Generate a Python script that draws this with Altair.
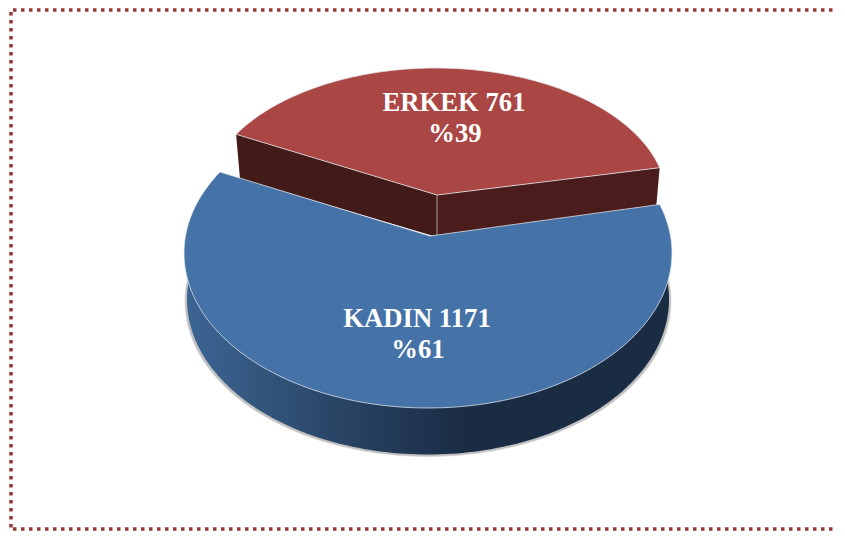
import math
import altair as alt

# ---- chart values ----
categories = ["ERKEK", "KADIN"]
counts = [761, 1171]
percents = ["%39", "%61"]

# ---- layout of the tilted pie (page pixels; the page has an 8px margin) ----
W, H = 829, 523
OFF = 8
TOTAL = sum(counts)
# each slice: ellipse (cx, cy, rx, ry), apex, start angle, perspective stretch of the sweep
RED = dict(c=(436, 201, 231, 133), apex=(437, 195), start=14.5, k=0.955)
BLUE = dict(c=(428, 253, 244, 155), apex=(430, 236), start=148.5, k=1.053)
DEPTH_C = (428, 299.5, 241, 155)
TEXT_POS = {"ERKEK": ((454, 111), (455, 142)), "KADIN": ((417, 327), (418, 358))}


def pt(c, deg):
    r = math.radians(deg)
    return (c[0] + c[2] * math.cos(r), c[1] - c[3] * math.sin(r))


def arc(c, a0, a1, n=160):
    return [pt(c, a0 + (a1 - a0) * i / n) for i in range(n + 1)]


def feat(points, closed=True):
    coords = [[x - OFF, y - OFF] for x, y in points]
    if closed:
        coords.append(coords[0])
        geom = {"type": "Polygon", "coordinates": [coords]}
    else:
        geom = {"type": "LineString", "coordinates": coords}
    return {"type": "Feature", "properties": {}, "geometry": geom}


def shape(points, closed=True, **mark):
    return alt.Chart(alt.Data(values=[feat(points, closed)])).mark_geoshape(**mark)


def sweep(slice_, value):
    return slice_["start"], slice_["start"] + 360 * value / TOTAL * slice_["k"]


r0, r1 = sweep(RED, counts[0])
b0, b1 = sweep(BLUE, counts[1])
red_arc = arc(RED["c"], r0, r1)
blue_arc = arc(BLUE["c"], b0, b1)
red_apex, blue_apex = RED["apex"], BLUE["apex"]

# walls of the pulled-out slice
left_wall = [red_arc[-1], red_apex, (437, 237), (240, 179)]
right_wall = [red_apex, red_arc[0], (656, 209), (437, 237)]

# rim of the big slice: the bottom ellipse, emerging from behind the top ellipse
rim = arc(DEPTH_C, 160, 380)
shadow_c = (DEPTH_C[0], DEPTH_C[1] + 2, DEPTH_C[2] + 2, DEPTH_C[3])
shadow = arc(shadow_c, 160, 380)

rim_fill = alt.Gradient(
    gradient="linear", x1=0, x2=1, y1=0, y2=0,
    stops=[
        alt.GradientStop(color="#3c6594", offset=0),
        alt.GradientStop(color="#2a4667", offset=0.3),
        alt.GradientStop(color="#1a2b44", offset=0.58),
        alt.GradientStop(color="#1a2b44", offset=1),
    ],
)

DOT = dict(filled=False, stroke="#953735", strokeWidth=3.5, strokeDash=[3.5, 4.5])
EDGE = "#e4e9ef"

layers = [
    shape([(13, 10), (845, 10)], closed=False, **DOT),
    shape([(11, 12), (11, 529)], closed=False, **DOT),
    shape([(13, 529), (845, 529)], closed=False, **DOT),
    shape(shadow, fill="#777777", opacity=0.45, stroke="#999999", strokeWidth=1, strokeOpacity=0.5),
    shape(rim, fill=rim_fill),
    shape(left_wall, fill="#421b18"),
    shape(right_wall, fill="#4a1c1b"),
    shape([red_apex, (437, 236)], closed=False, filled=False, stroke="#a9a09f", strokeWidth=1),
    shape([red_apex] + red_arc, fill="#aa4643", stroke=EDGE, strokeWidth=1, strokeOpacity=0.75),
    shape([blue_apex] + blue_arc, fill="#4572a7", stroke=EDGE, strokeWidth=1, strokeOpacity=0.75),
]

rows = []
for name, n, p in zip(categories, counts, percents):
    (x1, y1), (x2, y2) = TEXT_POS[name]
    rows.append({"lon": x1 - OFF, "lat": y1 - OFF, "t": f"{name} {n}"})
    rows.append({"lon": x2 - OFF, "lat": y2 - OFF, "t": p})

labels = alt.Chart(alt.Data(values=rows)).mark_text(
    font="Liberation Serif", fontWeight="bold", fontSize=26.7, color="white",
    align="center", baseline="alphabetic",
).encode(longitude="lon:Q", latitude="lat:Q", text="t:N")

chart = alt.layer(*layers, labels).project(
    type="identity", scale=1, translate=[0, 0]
).properties(
    width=W, height=H, padding=0, autosize=alt.AutoSizeParams(type="none"),
    background="white",
).configure_view(stroke=None)

chart.save("out.html", embed_options={"renderer": "svg", "actions": False})
